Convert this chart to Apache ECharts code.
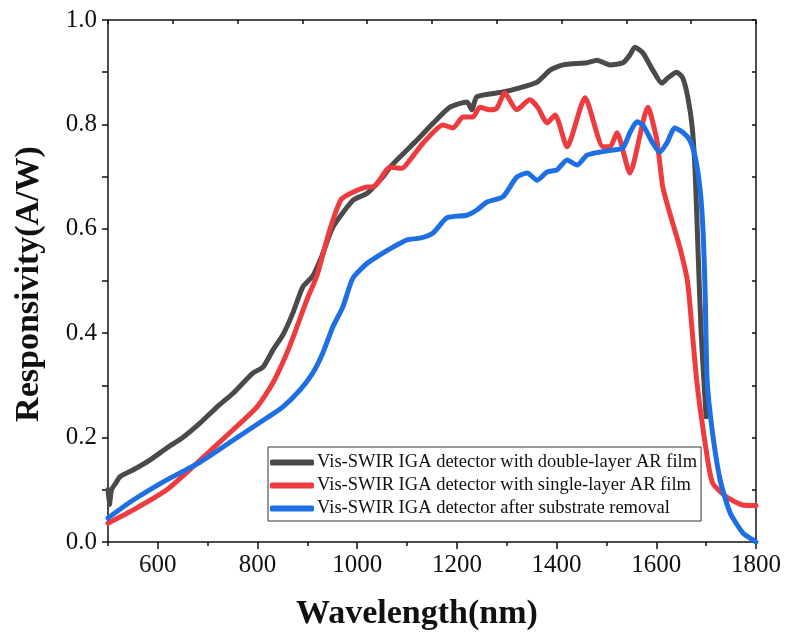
<!DOCTYPE html>
<html lang="en">

<head>
    <meta charset="utf-8">
    <title>Vis-SWIR IGA Responsivity</title>
    <script type="text/javascript" src="https://cdn.jsdelivr.net/npm/echarts@6/dist/echarts.min.js"></script>
    <style>
        html, body { margin: 0; padding: 0; background: #fff; }
        #chart { width: 789px; height: 636px; }
    </style>
</head>

<body>
    <div id="chart"></div>

    <script>
        // wavelength (nm) / responsivity (A/W)
        const doubleNm = [500, 503, 507, 515, 524, 550, 584, 618, 650, 685, 719, 751, 791, 811, 831, 851, 871, 891, 911, 930, 951, 992, 1020, 1052, 1066, 1086, 1120, 1152, 1186, 1220, 1230, 1240, 1292, 1326, 1361, 1387, 1413, 1461, 1481, 1507, 1533, 1547, 1557, 1573, 1593, 1611, 1623, 1641, 1653, 1663, 1672, 1678, 1684, 1690, 1696, 1700];
        const doubleR = [0.10, 0.072, 0.10, 0.112, 0.125, 0.138, 0.157, 0.18, 0.20, 0.228, 0.259, 0.285, 0.324, 0.335, 0.368, 0.397, 0.439, 0.489, 0.51, 0.55, 0.603, 0.655, 0.668, 0.70, 0.718, 0.738, 0.77, 0.802, 0.833, 0.843, 0.828, 0.853, 0.862, 0.87, 0.881, 0.904, 0.914, 0.918, 0.923, 0.914, 0.918, 0.933, 0.948, 0.937, 0.904, 0.879, 0.889, 0.90, 0.889, 0.853, 0.795, 0.707, 0.55, 0.40, 0.30, 0.24];

        const singleNm = [500, 550, 618, 685, 751, 799, 831, 859, 879, 899, 919, 945, 967, 987, 1020, 1032, 1066, 1090, 1106, 1132, 1172, 1192, 1212, 1232, 1246, 1266, 1280, 1296, 1320, 1346, 1362, 1381, 1397, 1421, 1457, 1493, 1507, 1521, 1547, 1583, 1601, 1613, 1627, 1647, 1661, 1666, 1681, 1701, 1713, 1741, 1773, 1800];
        const singleR = [0.036, 0.061, 0.10, 0.157, 0.215, 0.259, 0.305, 0.362, 0.412, 0.464, 0.51, 0.598, 0.655, 0.668, 0.68, 0.68, 0.718, 0.716, 0.732, 0.764, 0.799, 0.793, 0.814, 0.814, 0.833, 0.828, 0.831, 0.86, 0.828, 0.847, 0.833, 0.803, 0.818, 0.757, 0.851, 0.757, 0.757, 0.784, 0.707, 0.833, 0.77, 0.68, 0.63, 0.565, 0.508, 0.469, 0.31, 0.17, 0.113, 0.086, 0.071, 0.07];

        const removedNm = [500, 550, 618, 685, 751, 819, 851, 885, 911, 931, 951, 971, 991, 1020, 1052, 1072, 1100, 1126, 1152, 1180, 1220, 1240, 1260, 1292, 1320, 1341, 1361, 1381, 1401, 1421, 1441, 1461, 1487, 1513, 1533, 1547, 1561, 1573, 1593, 1607, 1621, 1637, 1653, 1667, 1678, 1688, 1694, 1698, 1702, 1712, 1728, 1748, 1774, 1794, 1800];
        const removedR = [0.046, 0.08, 0.119, 0.153, 0.195, 0.238, 0.259, 0.291, 0.324, 0.362, 0.412, 0.45, 0.505, 0.534, 0.554, 0.565, 0.579, 0.582, 0.592, 0.621, 0.626, 0.636, 0.651, 0.661, 0.699, 0.707, 0.693, 0.709, 0.713, 0.732, 0.722, 0.741, 0.747, 0.751, 0.755, 0.784, 0.805, 0.799, 0.764, 0.747, 0.764, 0.793, 0.785, 0.77, 0.738, 0.674, 0.592, 0.477, 0.31, 0.215, 0.119, 0.056, 0.017, 0.004, 0.0];

        const seriesNames = [
            'Vis-SWIR IGA detector with double-layer AR film',
            'Vis-SWIR IGA detector with single-layer AR film',
            'Vis-SWIR IGA detector after substrate removal'
        ];
        const xMajor = [600, 800, 1000, 1200, 1400, 1600, 1800];
        const yMajor = [0, 0.2, 0.4, 0.6, 0.8, 1.0];

        const font = 'Liberation Serif, Times New Roman, serif';
        const colors = ['#4a4a4a', '#ee3b3f', '#1d6fe3'];

        function pairs(xs, ys) {
            return xs.map(function (x, i) { return [x, ys[i]]; });
        }

        const chart = echarts.init(document.getElementById('chart'));

        const axisLine = { show: true, lineStyle: { color: '#111', width: 1.5 } };
        const tickStyle = { color: '#111', width: 1.5 };

        const option = {
            backgroundColor: '#fff',
            animation: false,
            grid: { left: 108, right: 33, top: 20, bottom: 94 },
            legend: {
                data: seriesNames,
                orient: 'vertical',
                left: 268,
                top: 447,
                backgroundColor: '#fff',
                borderColor: '#333',
                borderWidth: 1,
                padding: [6, 4, 3, 2],
                itemGap: 4,
                itemWidth: 44,
                itemHeight: 6,
                icon: 'roundRect',
                textStyle: { fontFamily: font, fontSize: 18.5, color: '#111', padding: [0, 0, 0, -2] }
            },
            xAxis: [{
                type: 'value', min: 500, max: 1800, interval: 100,
                position: 'bottom',
                name: 'Wavelength(nm)', nameLocation: 'middle', nameGap: 55,
                nameTextStyle: { fontFamily: font, fontSize: 34, fontWeight: 'bold', color: '#111', padding: [0, 30, 0, 0] },
                axisLine: axisLine,
                axisTick: { show: true, inside: false, length: 7, lineStyle: tickStyle, customValues: xMajor },
                axisLabel: {
                    customValues: xMajor, fontFamily: font, fontSize: 25, color: '#111', margin: 11,
                    formatter: function (v) { return String(v); }
                },
                splitLine: { show: false }
            }, {
                type: 'value', min: 500, max: 1800, interval: 100,
                position: 'bottom', gridIndex: 0,
                axisLine: { show: false },
                axisTick: { show: true, length: 4, lineStyle: tickStyle },
                axisLabel: { show: false },
                splitLine: { show: false }
            }, {
                type: 'value', min: 0, max: 10, interval: 1,
                position: 'top', gridIndex: 0,
                axisLine: axisLine,
                axisTick: { show: true, inside: true, length: 4, lineStyle: tickStyle },
                axisLabel: { show: false },
                splitLine: { show: false }
            }],
            yAxis: [{
                type: 'value', min: 0, max: 1, interval: 0.1,
                position: 'left',
                name: 'Responsivity(A/W)', nameLocation: 'middle', nameGap: 62,
                nameTextStyle: { fontFamily: font, fontSize: 34, fontWeight: 'bold', color: '#111', padding: [0, 6, 0, 0] },
                axisLine: axisLine,
                axisTick: { show: true, length: 6, lineStyle: tickStyle },
                axisLabel: {
                    customValues: yMajor, fontFamily: font, fontSize: 25, color: '#111', margin: 11,
                    formatter: function (v) { return v.toFixed(1); }
                },
                splitLine: { show: false }
            }, {
                type: 'value', min: 0, max: 1, interval: 0.1,
                position: 'right',
                axisLine: axisLine,
                axisTick: { show: true, inside: true, length: 4, lineStyle: tickStyle },
                axisLabel: { show: false },
                splitLine: { show: false }
            }],
            series: [
                { name: seriesNames[0], data: pairs(doubleNm, doubleR) },
                { name: seriesNames[1], data: pairs(singleNm, singleR) },
                { name: seriesNames[2], data: pairs(removedNm, removedR) }
            ].map(function (s, i) {
                return Object.assign(s, {
                    type: 'line',
                    xAxisIndex: 0,
                    yAxisIndex: 0,
                    showSymbol: false,
                    smooth: 0.2,
                    color: colors[i],
                    lineStyle: { color: colors[i], width: 5, cap: 'round', join: 'round' },
                    z: 2 + i
                });
            })
        };

        chart.setOption(option);
    </script>
</body>

</html>
